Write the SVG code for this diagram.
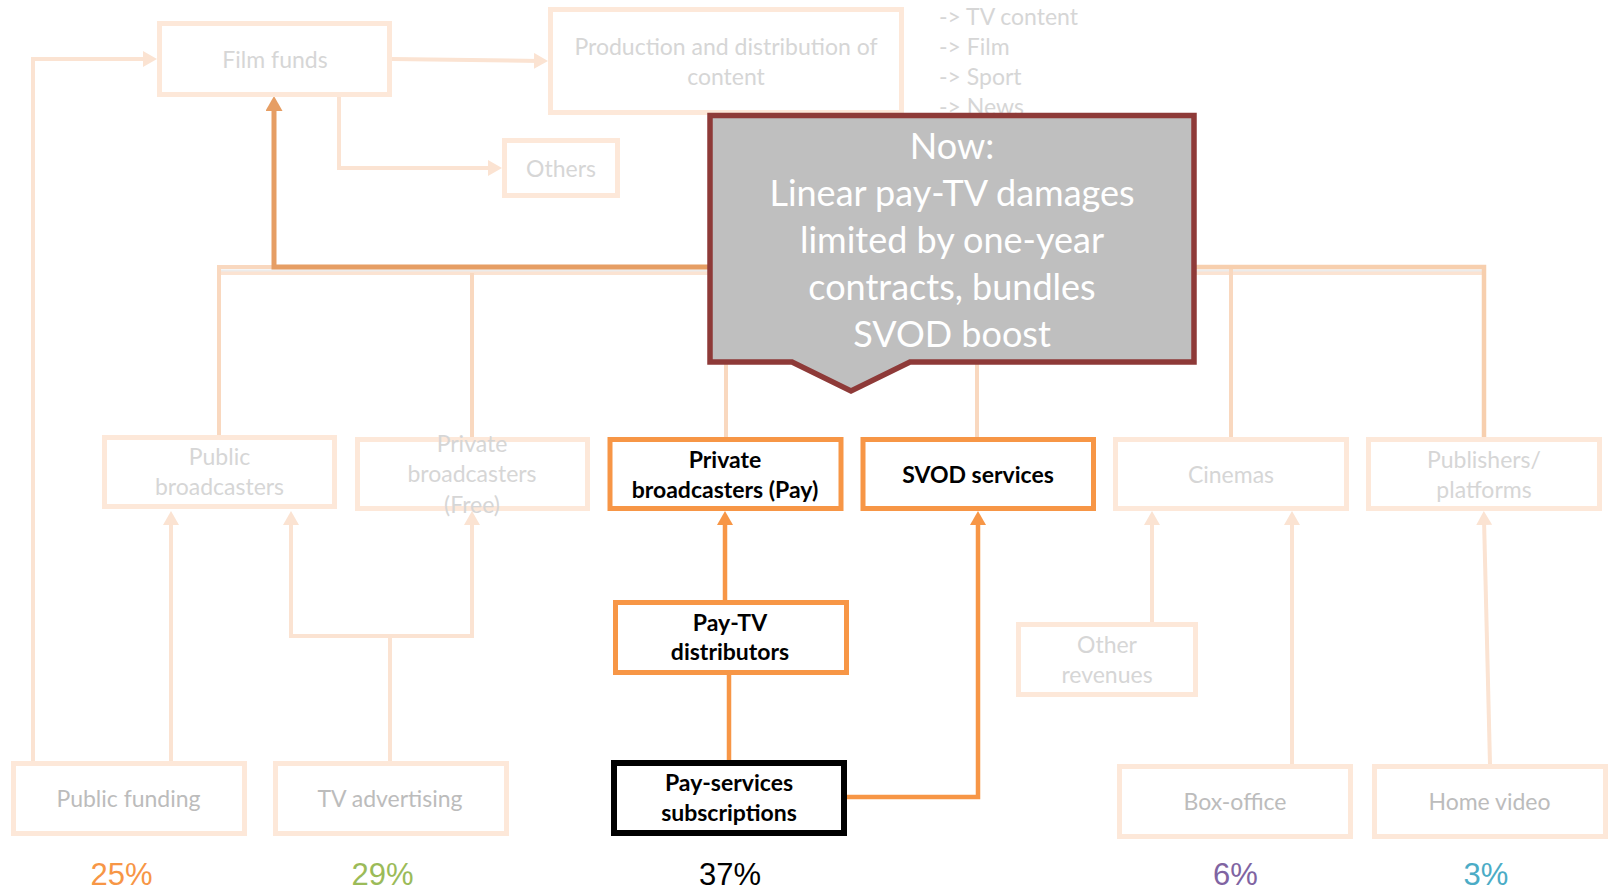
<svg xmlns="http://www.w3.org/2000/svg" width="1613" height="892" viewBox="0 0 1613 892">
  <defs>
    <style>
      .lb { fill: #ffffff; stroke: #fde8d9; stroke-width: 5; }
      .hb { fill: #ffffff; stroke: #f79646; stroke-width: 5; }
      .kb { fill: #ffffff; stroke: #000000; stroke-width: 6; }
      .t { font-family: Lato, "Liberation Sans", sans-serif; font-size: 23px; text-anchor: middle; }
      .tl { fill: #d6d6d6; }
      .tm { fill: #bcbcbc; }
      .tb { fill: #000000; font-weight: bold; }
      .lst { font-family: Lato, "Liberation Sans", sans-serif; font-size: 23px; fill: #d6d6d6; }
      .pct { font-family: "Liberation Sans", Arial, sans-serif; font-size: 31px; text-anchor: middle; }
      .lc { fill: none; stroke: #fbe3d2; stroke-width: 4; }
      .bc { fill: none; stroke: #f9d8bf; stroke-width: 4; }
      .dc { fill: none; stroke: #e69e64; stroke-width: 5; }
      .oc { fill: none; stroke: #f79646; stroke-width: 4.5; }
      .ct { font-family: Lato, "Liberation Sans", sans-serif; font-size: 36px; fill: #ffffff; text-anchor: middle; }
    </style>
    <marker id="al" viewBox="0 0 14 16" refX="6" refY="8" markerWidth="14" markerHeight="16" markerUnits="userSpaceOnUse" orient="auto">
      <path d="M0,0 L14,8 L0,16 Z" fill="#fbe3d2"/>
    </marker>
    <marker id="ad" viewBox="0 0 15 17" refX="6" refY="8.5" markerWidth="15" markerHeight="17" markerUnits="userSpaceOnUse" orient="auto">
      <path d="M0,0 L15,8.5 L0,17 Z" fill="#e69e64"/>
    </marker>
    <marker id="ao" viewBox="0 0 14 16" refX="6" refY="8" markerWidth="14" markerHeight="16" markerUnits="userSpaceOnUse" orient="auto">
      <path d="M0,0 L14,8 L0,16 Z" fill="#f79646"/>
    </marker>
  </defs>

  <rect width="1613" height="892" fill="#ffffff"/>

  <!-- connectors -->
  <g id="connectors">
    <!-- funding flows into film funds and onward -->
    <path class="lc" d="M33,761 V59 H149" marker-end="url(#al)"/>
    <path class="lc" d="M392,59 L540,61" marker-end="url(#al)"/>
    <path class="lc" d="M339,97 V168 H494" marker-end="url(#al)"/>

    <!-- shared bus from the broadcaster / service row -->
    <path class="lc" d="M219,273 H1484"/>
    <path d="M219,270.5 H1484" fill="none" stroke="#ececec" stroke-width="2"/>
    <path class="bc" d="M219,435 V267 H274"/>
    <path class="bc" d="M472,437 V273"/>
    <path class="bc" d="M726,437 V273"/>
    <path class="bc" d="M977,437 V273"/>
    <path class="bc" d="M1231,437 V267"/>
    <path d="M1195,267 H1484 V437" fill="none" stroke="#f7cfae" stroke-width="4.5"/>
    <path class="dc" d="M726,267 H274 V105" marker-end="url(#ad)"/>

    <!-- revenue sources into the middle row -->
    <path class="lc" d="M171,761 V519" marker-end="url(#al)"/>
    <path class="lc" d="M390,761 V636 H291 V519" marker-end="url(#al)"/>
    <path class="lc" d="M390,636 H472 V519" marker-end="url(#al)"/>
    <path class="lc" d="M1152,622 V519" marker-end="url(#al)"/>
    <path class="lc" d="M1292,764 V519" marker-end="url(#al)"/>
    <path class="lc" d="M1490,764 L1484,519" marker-end="url(#al)"/>

    <!-- pay services chain -->
    <path class="oc" d="M729,760 V675"/>
    <path class="oc" d="M725,600 V519" marker-end="url(#ao)"/>
    <path class="oc" d="M847,797 H978 V519" marker-end="url(#ao)"/>
  </g>

  <!-- top row -->
  <g id="film-funds">
    <rect class="lb" x="159.5" y="23.5" width="230" height="71"/>
    <text class="t tl" x="275" y="68">Film funds</text>
  </g>
  <g id="production">
    <rect class="lb" x="550.5" y="9.5" width="351" height="103"/>
    <text class="t tl" x="726" y="55">Production and distribution of</text>
    <text class="t tl" x="726" y="85">content</text>
  </g>
  <g id="content-types">
    <text class="lst" x="939" y="25">-&gt; TV content</text>
    <text class="lst" x="939" y="55">-&gt; Film</text>
    <text class="lst" x="939" y="85">-&gt; Sport</text>
    <text class="lst" x="939" y="115">-&gt; News</text>
  </g>
  <g id="others">
    <rect class="lb" x="504.5" y="140.5" width="113" height="55"/>
    <text class="t tl" x="561" y="177">Others</text>
  </g>

  <!-- middle row -->
  <g id="public-broadcasters">
    <rect class="lb" x="104.5" y="437.5" width="230" height="69"/>
    <text class="t tl" x="219.5" y="465">Public</text>
    <text class="t tl" x="219.5" y="495">broadcasters</text>
  </g>
  <g id="private-free">
    <rect class="lb" x="357.5" y="439.5" width="230" height="69"/>
    <text class="t tl" x="472" y="452">Private</text>
    <text class="t tl" x="472" y="482">broadcasters</text>
    <text class="t tl" x="472" y="513">(Free)</text>
  </g>
  <g id="private-pay">
    <rect class="hb" x="610" y="439.5" width="231" height="69"/>
    <text class="t tb" x="725" y="468">Private</text>
    <text class="t tb" x="725" y="498">broadcasters (Pay)</text>
  </g>
  <g id="svod">
    <rect class="hb" x="863" y="439.5" width="230.5" height="69"/>
    <text class="t tb" x="978" y="483">SVOD services</text>
  </g>
  <g id="cinemas">
    <rect class="lb" x="1115.5" y="439.5" width="231" height="69"/>
    <text class="t tl" x="1231" y="483">Cinemas</text>
  </g>
  <g id="publishers">
    <rect class="lb" x="1368.5" y="439.5" width="231" height="69"/>
    <text class="t tl" x="1484" y="468">Publishers/</text>
    <text class="t tl" x="1484" y="498">platforms</text>
  </g>

  <!-- lower rows -->
  <g id="pay-tv-distributors">
    <rect class="hb" x="615.5" y="602.5" width="231" height="70"/>
    <text class="t tb" x="730" y="631">Pay-TV</text>
    <text class="t tb" x="730" y="660">distributors</text>
  </g>
  <g id="other-revenues">
    <rect class="lb" x="1018.5" y="624.5" width="177" height="70"/>
    <text class="t tl" x="1107" y="653">Other</text>
    <text class="t tl" x="1107" y="683">revenues</text>
  </g>
  <g id="public-funding">
    <rect class="lb" x="13.5" y="763.5" width="231" height="70"/>
    <text class="t tm" x="128.5" y="807">Public funding</text>
  </g>
  <g id="tv-advertising">
    <rect class="lb" x="275.5" y="763.5" width="231" height="70"/>
    <text class="t tm" x="390" y="807">TV advertising</text>
  </g>
  <g id="pay-subscriptions">
    <rect class="kb" x="614" y="763" width="230" height="70"/>
    <text class="t tb" x="729" y="791">Pay-services</text>
    <text class="t tb" x="729" y="821">subscriptions</text>
  </g>
  <g id="box-office">
    <rect class="lb" x="1119.5" y="766.5" width="231" height="70"/>
    <text class="t tm" x="1235" y="810">Box-office</text>
  </g>
  <g id="home-video">
    <rect class="lb" x="1374.5" y="766.5" width="231" height="70"/>
    <text class="t tm" x="1489.5" y="810">Home video</text>
  </g>

  <!-- revenue shares -->
  <g id="shares">
    <text class="pct" x="121.5" y="885" fill="#f79646">25%</text>
    <text class="pct" x="382.5" y="885" fill="#9bbb59">29%</text>
    <text class="pct" x="730" y="885" fill="#000000">37%</text>
    <text class="pct" x="1235.5" y="885" fill="#8064a2">6%</text>
    <text class="pct" x="1486" y="885" fill="#4bacc6">3%</text>
  </g>

  <!-- callout -->
  <g id="callout">
    <path d="M710,115.5 H1194 V362 H910 L851,391 L792,362 H710 Z" fill="#bfbfbf" stroke="#8e3a38" stroke-width="5.5" stroke-linejoin="miter"/>
    <text class="ct" x="952" y="159">Now:</text>
    <text class="ct" x="952" y="206">Linear pay-TV damages</text>
    <text class="ct" x="952" y="253">limited by one-year</text>
    <text class="ct" x="952" y="300">contracts, bundles</text>
    <text class="ct" x="952" y="347">SVOD boost</text>
  </g>
</svg>
